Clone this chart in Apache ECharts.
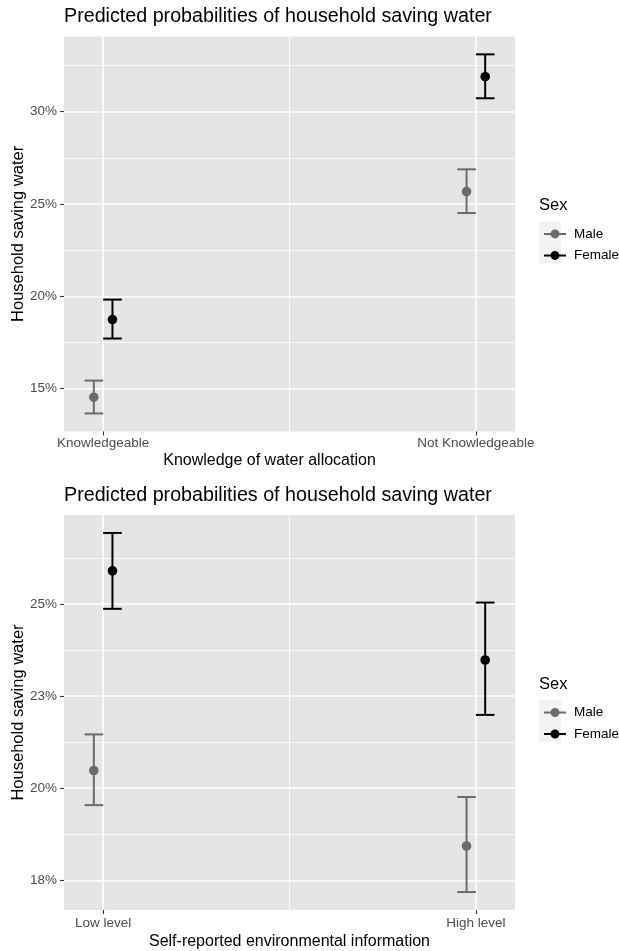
<!DOCTYPE html>
<html>
<head>
<meta charset="utf-8">
<title>Predicted probabilities of household saving water</title>
<script src="https://cdn.jsdelivr.net/npm/echarts@6/dist/echarts.min.js"></script>
<style>
  html, body { margin: 0; padding: 0; background: #fff; }
  #chart { width: 619px; height: 951px; }
</style>
</head>
<body>
<div id="chart"></div>
<script>
// top panel: knowledge of water allocation
const knowledgeCategories = ['Knowledgeable', 'Not Knowledgeable']
const knowledgeMale = [14.53, 25.67]
const knowledgeMaleLow = [13.65, 24.51]
const knowledgeMaleHigh = [15.43, 26.88]
const knowledgeFemale = [18.74, 31.90]
const knowledgeFemaleLow = [17.71, 30.73]
const knowledgeFemaleHigh = [19.82, 33.11]
const knowledgeTicks = [15, 20, 25, 30]
const knowledgeTickLabels = ['15%', '20%', '25%', '30%']
const knowledgeMinorTicks = [17.5, 22.5, 27.5, 32.5]

// bottom panel: self-reported environmental information
const infoCategories = ['Low level', 'High level']
const infoMale = [20.48, 18.43]
const infoMaleLow = [19.54, 17.18]
const infoMaleHigh = [21.46, 19.76]
const infoFemale = [25.90, 23.48]
const infoFemaleLow = [24.87, 21.99]
const infoFemaleHigh = [26.93, 25.04]
const infoTicks = [17.5, 20, 22.5, 25]
const infoTickLabels = ['18%', '20%', '23%', '25%']
const infoMinorTicks = [18.75, 21.25, 23.75, 26.25]

const sexNames = ['Male', 'Female']

const FONT = "'Liberation Sans', Arial, sans-serif"
const MALE_COLOR = '#6b6b6b'
const FEMALE_COLOR = '#000000'
const DODGE = { Male: -0.025, Female: 0.025 }
const CAP_HALF = 0.025

// ggplot style 5% expansion
const expand = (lo, hi) => {
  const pad = (hi - lo) * 0.05
  return [lo - pad, hi + pad]
}
const xRange = expand(-DODGE.Female - CAP_HALF, 1 + DODGE.Female + CAP_HALF)

const rows = (est, low, high) => est.map((v, i) => [i, v, low[i], high[i]])

const errorBarRender = (offset) => (params, api) => {
  const x = api.value(0) + offset
  const mid = api.coord([x, api.value(1)])
  const lo = api.coord([x, api.value(2)])
  const hi = api.coord([x, api.value(3)])
  const left = api.coord([x - CAP_HALF, api.value(1)])[0]
  const right = api.coord([x + CAP_HALF, api.value(1)])[0]
  const color = api.visual('color')
  const line = { stroke: color, lineWidth: 2 }
  return {
    type: 'group',
    children: [
      { type: 'line', shape: { x1: mid[0], y1: hi[1], x2: mid[0], y2: lo[1] }, style: line },
      { type: 'line', shape: { x1: left, y1: hi[1], x2: right, y2: hi[1] }, style: line },
      { type: 'line', shape: { x1: left, y1: lo[1], x2: right, y2: lo[1] }, style: line },
      { type: 'circle', shape: { cx: mid[0], cy: mid[1], r: 4.8 }, style: { fill: color } }
    ]
  }
}

const panels = [
  {
    top: 36.4, categories: knowledgeCategories,
    ticks: knowledgeTicks, tickLabels: knowledgeTickLabels, minor: knowledgeMinorTicks,
    yRange: expand(Math.min(...knowledgeMaleLow, ...knowledgeFemaleLow), Math.max(...knowledgeMaleHigh, ...knowledgeFemaleHigh)),
    xName: 'Knowledge of water allocation', xNamePad: [0, 40, 0, 0], labelMargin: 5, nameGap: 21,
    male: rows(knowledgeMale, knowledgeMaleLow, knowledgeMaleHigh),
    female: rows(knowledgeFemale, knowledgeFemaleLow, knowledgeFemaleHigh)
  },
  {
    top: 515, categories: infoCategories,
    ticks: infoTicks, tickLabels: infoTickLabels, minor: infoMinorTicks,
    yRange: expand(Math.min(...infoMaleLow, ...infoFemaleLow), Math.max(...infoMaleHigh, ...infoFemaleHigh)),
    xName: 'Self-reported environmental information', xNamePad: [0, 0, 0, 0], labelMargin: 6, nameGap: 23.5,
    male: rows(infoMale, infoMaleLow, infoMaleHigh),
    female: rows(infoFemale, infoFemaleLow, infoFemaleHigh)
  }
]

const PANEL_H = 395
const title = [], grid = [], xAxis = [], yAxis = [], series = [], legend = [], graphic = []

panels.forEach((p, g) => {
  title.push({
    text: 'Predicted probabilities of household saving water',
    left: 64, top: p.top - 29.6, padding: 0,
    textStyle: { fontFamily: FONT, fontSize: 19.7, fontWeight: 'normal', color: '#000' }
  })
  grid.push({
    left: 64, top: p.top, width: 451, height: PANEL_H,
    outerBoundsMode: 'none', containLabel: false,
    show: true, backgroundColor: '#e5e5e5', borderWidth: 0
  })
  // major x
  xAxis.push({
    type: 'value', gridIndex: g, min: xRange[0], max: xRange[1],
    axisLine: { show: false, onZero: false },
    axisTick: { show: true, length: 4, customValues: [0, 1], lineStyle: { color: '#333', width: 1.1 } },
    axisLabel: {
      customValues: [0, 1], formatter: v => p.categories[Math.round(v)],
      color: '#4d4d4d', fontFamily: FONT, fontSize: 13.5, margin: p.labelMargin
    },
    splitLine: { show: true, lineStyle: { color: '#fff', width: 1.6 } },
    name: p.xName, nameLocation: 'middle', nameGap: p.nameGap, nameMoveOverlap: false,
    nameTextStyle: { fontFamily: FONT, fontSize: 16, color: '#000', padding: p.xNamePad }
  })
  // minor x
  xAxis.push({
    type: 'value', gridIndex: g, position: 'top', min: xRange[0], max: xRange[1],
    axisLine: { show: false, onZero: false },
    axisTick: { show: false, customValues: [0.5] },
    axisLabel: { show: false, customValues: [0.5] },
    splitLine: { show: true, lineStyle: { color: '#fff', width: 0.8 } }
  })
  // major y
  yAxis.push({
    type: 'value', gridIndex: g, min: p.yRange[0], max: p.yRange[1],
    axisLine: { show: false, onZero: false },
    axisTick: { show: true, length: 4, customValues: p.ticks, lineStyle: { color: '#333', width: 1.1 } },
    axisLabel: {
      customValues: p.ticks, formatter: v => p.tickLabels[p.ticks.indexOf(v)] ?? '',
      color: '#4d4d4d', fontFamily: FONT, fontSize: 13.5, margin: 7
    },
    splitLine: { show: true, lineStyle: { color: '#fff', width: 1.6 } },
    name: 'Household saving water', nameLocation: 'middle', nameGap: 37, nameMoveOverlap: false,
    nameTextStyle: { fontFamily: FONT, fontSize: 16.5, color: '#000' }
  })
  // minor y
  yAxis.push({
    type: 'value', gridIndex: g, position: 'right', min: p.yRange[0], max: p.yRange[1],
    axisLine: { show: false, onZero: false },
    axisTick: { show: false, customValues: p.minor },
    axisLabel: { show: false, customValues: p.minor },
    splitLine: { show: true, lineStyle: { color: '#fff', width: 0.8 } }
  })

  series.push({
    name: 'Male', type: 'custom', xAxisIndex: g * 2, yAxisIndex: g * 2,
    itemStyle: { color: MALE_COLOR }, renderItem: errorBarRender(DODGE.Male),
    encode: { x: 0, y: [1, 2, 3] }, data: p.male, z: 3
  })
  series.push({
    name: 'Female', type: 'custom', xAxisIndex: g * 2, yAxisIndex: g * 2,
    itemStyle: { color: FEMALE_COLOR }, renderItem: errorBarRender(DODGE.Female),
    encode: { x: 0, y: [1, 2, 3] }, data: p.female, z: 3
  })

  // legend, centred on the panel
  const mid = p.top + PANEL_H / 2
  legend.push({
    data: sexNames, orient: 'vertical', left: 539, top: mid - 12,
    itemWidth: 22, itemHeight: 9, itemGap: 7.5, selectedMode: false, z: 5,
    icon: 'path://M0,4H6.6V6H0Z M15.4,4H22V6H15.4Z M6.5,5A4.5,4.5 0 1,1 15.5,5A4.5,4.5 0 1,1 6.5,5Z',
    textStyle: { fontFamily: FONT, fontSize: 13.5, color: '#000', padding: [0, 0, 0, 3] }
  })
  graphic.push({
    type: 'text', left: 539, top: mid - 37,
    style: { text: 'Sex', fontFamily: FONT, fontSize: 16.5, fill: '#000' }
  })
  graphic.push({
    type: 'rect', left: 539, top: mid - 12.5, z: 0,
    shape: { width: 22, height: 42 }, style: { fill: '#f2f2f2' }
  })
})

const chart = echarts.init(document.getElementById('chart'), null, { renderer: 'canvas' })
chart.setOption({
  animation: false,
  backgroundColor: '#fff',
  title, grid, xAxis, yAxis, series, legend, graphic
})
</script>
</body>
</html>
